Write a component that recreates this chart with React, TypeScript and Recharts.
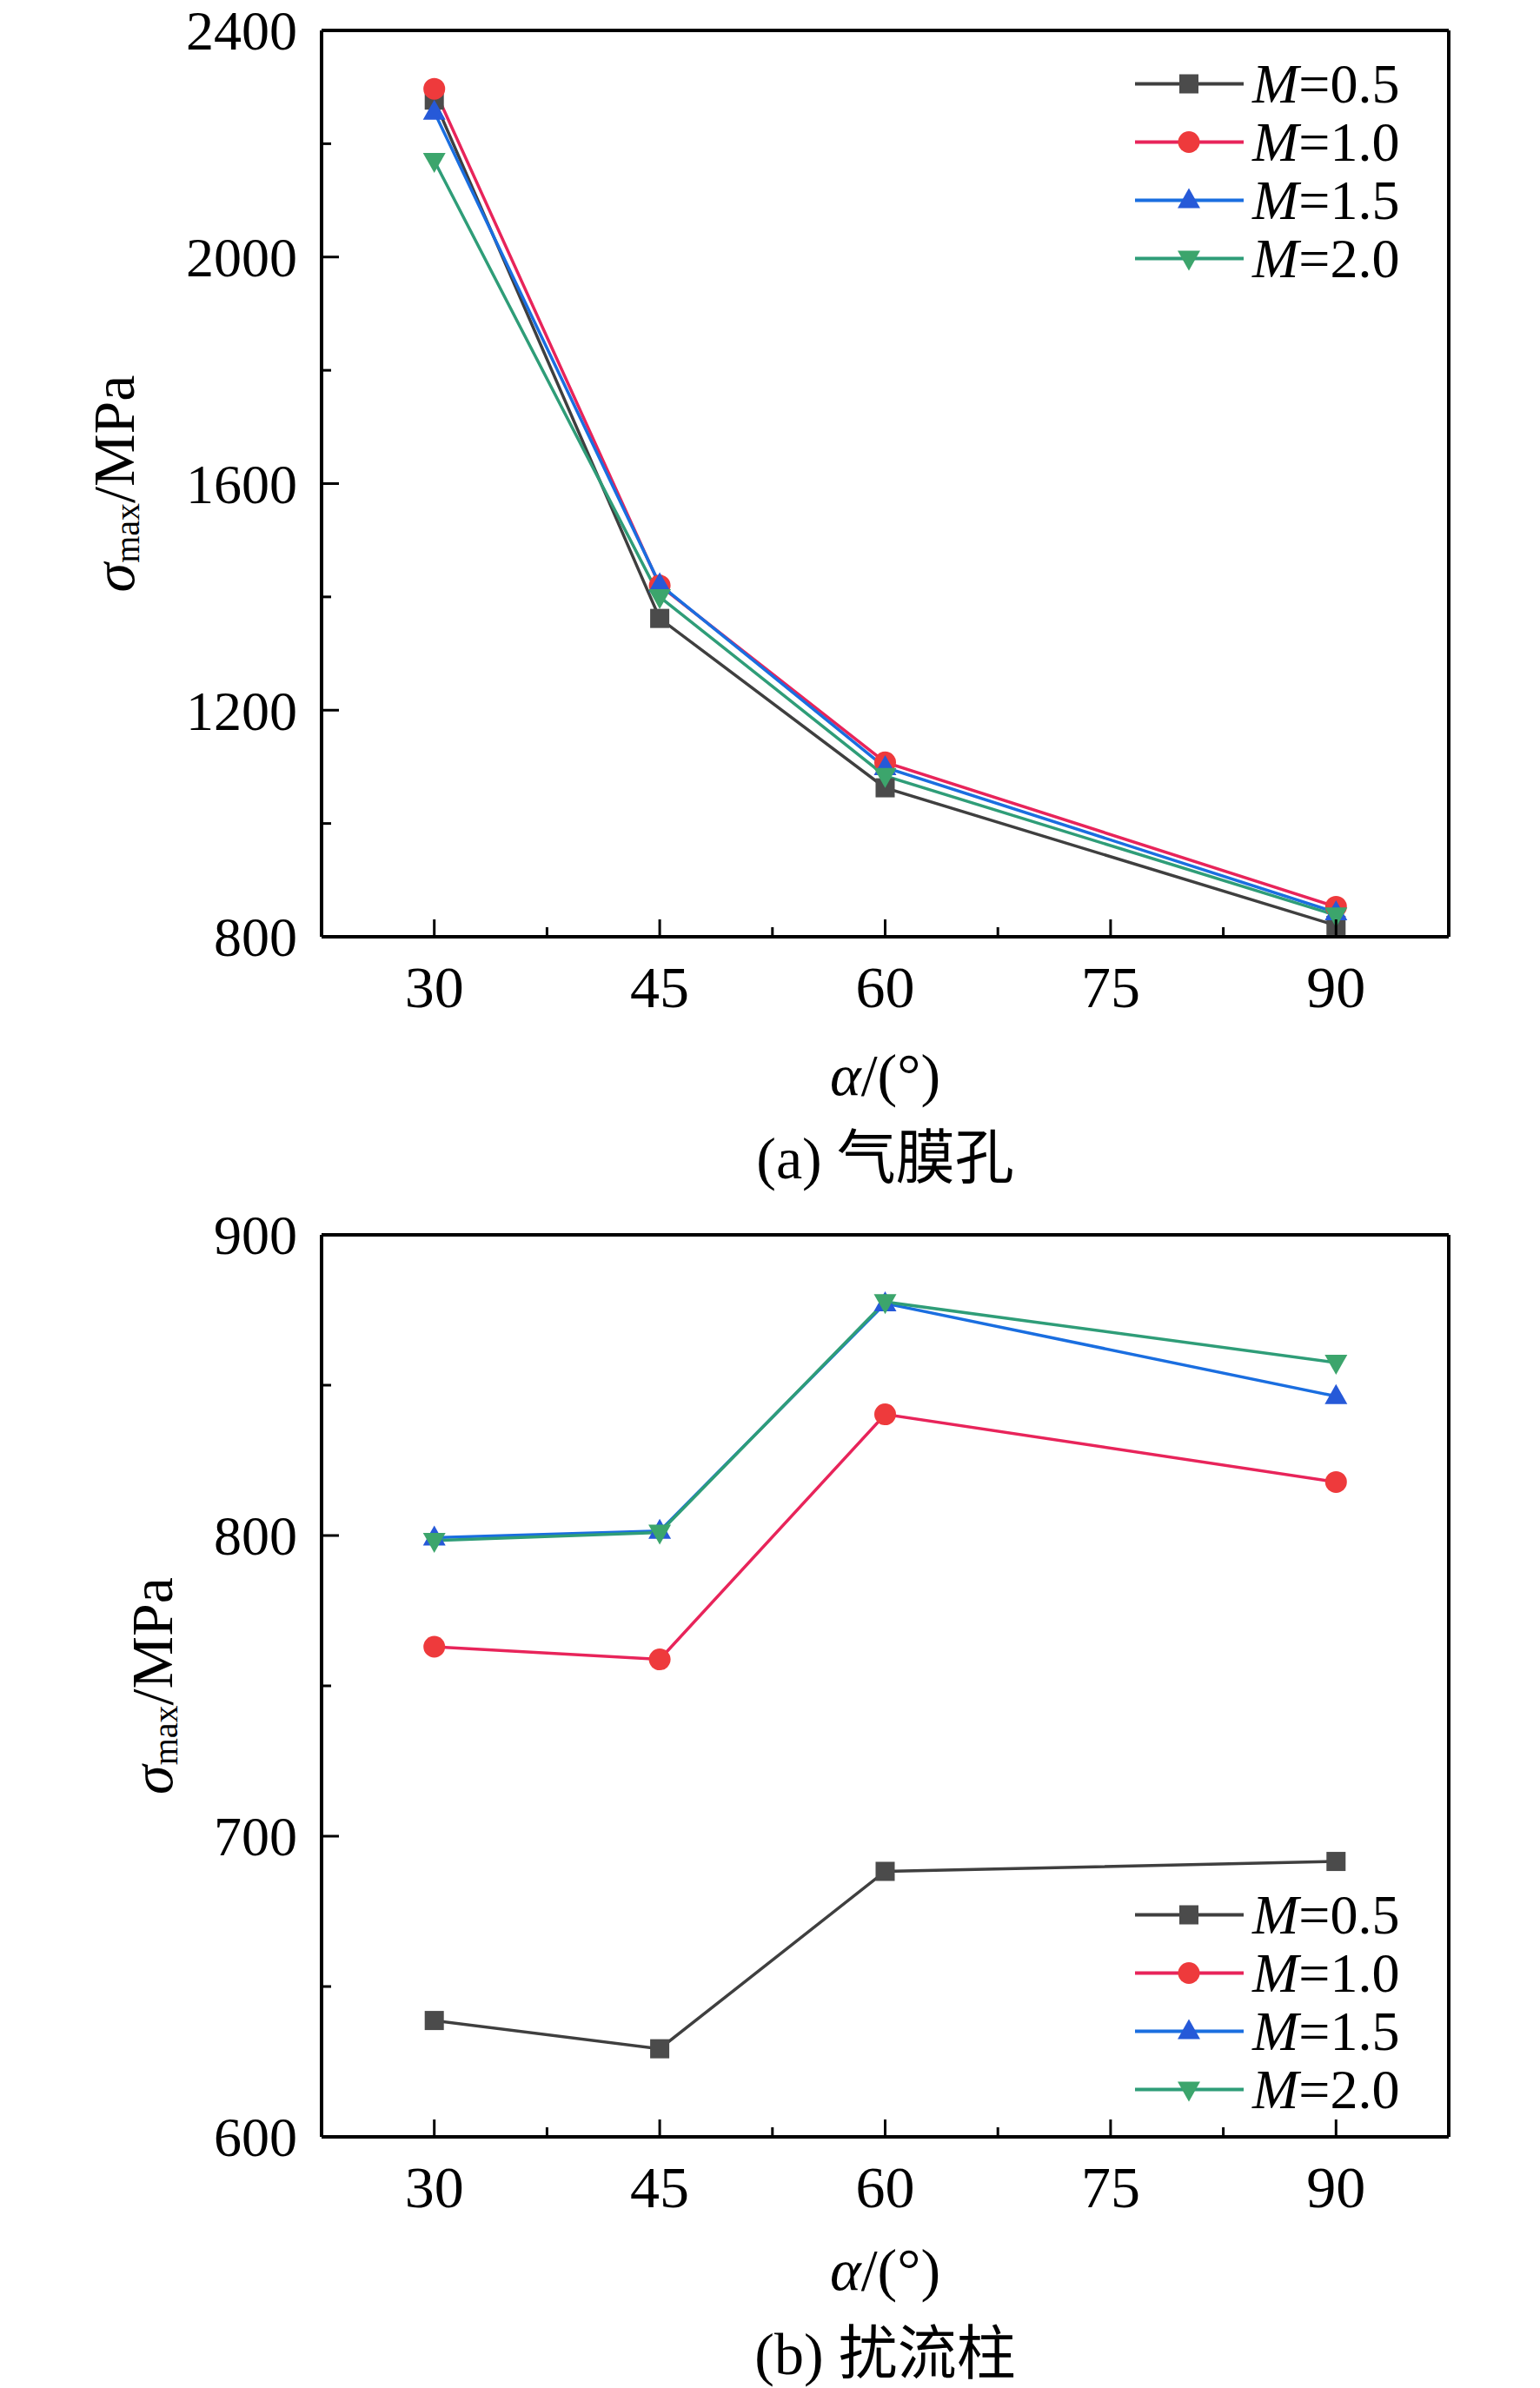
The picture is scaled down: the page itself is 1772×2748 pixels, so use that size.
import React from 'react';
import { LineChart, Line, XAxis, YAxis, Legend, ReferenceLine } from 'recharts';

const SERIF = '"Liberation Serif", "Times New Roman", "Noto Sans CJK SC", serif';
const FS = 68;
const FS_SMALL = 64;

// shared x axis: inclination angle alpha in degrees
const ANGLES = [30, 45, 60, 90];
const X_DOMAIN = [22.5, 97.5];
const X_TICKS = [30, 37.5, 45, 52.5, 60, 67.5, 75, 82.5, 90];
const X_MAJOR = [30, 45, 60, 75, 90];

// (a) film cooling hole
const FILM_M05 = [2277, 1362, 1063, 820];
const FILM_M10 = [2297, 1420, 1108, 853];
const FILM_M15 = [2256, 1422, 1099, 843];
const FILM_M20 = [2170, 1400, 1084, 838];
const FILM_Y_DOMAIN = [800, 2400];
const FILM_Y_TICKS = [800, 1000, 1200, 1400, 1600, 1800, 2000, 2200, 2400];
const FILM_Y_MAJOR = [800, 1200, 1600, 2000, 2400];

// (b) pin fin
const PIN_M05 = [638.7, 629.3, 688.3, 691.6];
const PIN_M10 = [763, 758.8, 840.3, 817.8];
const PIN_M15 = [799.3, 801.5, 877.2, 846.3];
const PIN_M20 = [798.3, 801, 877.7, 857.5];
const PIN_Y_DOMAIN = [600, 900];
const PIN_Y_TICKS = [600, 650, 700, 750, 800, 850, 900];
const PIN_Y_MAJOR = [600, 700, 800, 900];

const SERIES = [
  { key: 'm05', label: '0.5', line: '#3f3f3f', fill: '#4b4b4b', shape: 'square' },
  { key: 'm10', label: '1.0', line: '#e8245a', fill: '#ee3a3c', shape: 'circle' },
  { key: 'm15', label: '1.5', line: '#1a6ee0', fill: '#2659d8', shape: 'up' },
  { key: 'm20', label: '2.0', line: '#2f9d78', fill: '#3ca56c', shape: 'down' },
];

const buildRows = (m05: number[], m10: number[], m15: number[], m20: number[]) =>
  ANGLES.map((a, i) => ({ alpha: a, m05: m05[i], m10: m10[i], m15: m15[i], m20: m20[i] }));

const FILM_ROWS = buildRows(FILM_M05, FILM_M10, FILM_M15, FILM_M20);
const PIN_ROWS = buildRows(PIN_M05, PIN_M10, PIN_M15, PIN_M20);

const Marker = ({ cx, cy, shape, fill }: any) => {
  if (cx == null || cy == null) return null;
  if (shape === 'square') return <rect x={cx - 11} y={cy - 11} width={22} height={22} fill={fill} />;
  if (shape === 'circle') return <circle cx={cx} cy={cy} r={12.5} fill={fill} />;
  if (shape === 'up')
    return <polygon points={`${cx},${cy - 14} ${cx + 13},${cy + 9} ${cx - 13},${cy + 9}`} fill={fill} />;
  return <polygon points={`${cx},${cy + 14} ${cx + 13},${cy - 9} ${cx - 13},${cy - 9}`} fill={fill} />;
};

const XTick = ({ x, y, payload }: any) => {
  const major = X_MAJOR.includes(payload.value);
  return (
    <g>
      <line x1={x} x2={x} y1={y} y2={y - (major ? 20 : 11)} stroke="#000" strokeWidth={3} />
      {major && (
        <text x={x} y={y + 57} dy="0.35em" textAnchor="middle" fontFamily={SERIF} fontSize={FS} fill="#000">
          {payload.value}
        </text>
      )}
    </g>
  );
};

const makeYTick = (majors: number[]) => ({ x, y, payload }: any) => {
  const major = majors.includes(payload.value);
  return (
    <g>
      <line x1={x} x2={x + (major ? 20 : 11)} y1={y} y2={y} stroke="#000" strokeWidth={3} />
      {major && (
        <text x={x - 28} y={y} dy="0.35em" textAnchor="end" fontFamily={SERIF} fontSize={FS_SMALL} fill="#000">
          {payload.value}
        </text>
      )}
    </g>
  );
};

const makeYTitle = (cx: number) => (props: any) => {
  const vb = props.viewBox || {};
  const cy = vb.y + vb.height / 2;
  return (
    <text
      x={cx}
      y={cy}
      transform={`rotate(-90, ${cx}, ${cy})`}
      textAnchor="middle"
      dominantBaseline="central"
      fontFamily={SERIF}
      fontSize={FS}
      fill="#000"
    >
      <tspan fontStyle="italic">σ</tspan>
      <tspan fontSize={40} dy={15}>max</tspan>
      <tspan dy={-15}>/MPa</tspan>
    </text>
  );
};

const makeXTitle = (caption: string, titleOffset: number, captionOffset: number) => (props: any) => {
  const vb = props.viewBox || {};
  const cx = vb.x + vb.width / 2;
  return (
    <g fontFamily={SERIF} fontSize={FS} fill="#000">
      <text x={cx} y={vb.y + titleOffset} dy="0.35em" textAnchor="middle">
        <tspan fontStyle="italic">α</tspan>
        <tspan>/(°)</tspan>
      </text>
      <text x={cx} y={vb.y + captionOffset} dy="0.35em" textAnchor="middle">
        {caption}
      </text>
    </g>
  );
};

const LegendBox = () => (
  <div style={{ fontFamily: SERIF, fontSize: FS_SMALL, color: '#000' }}>
    {SERIES.map((s) => (
      <div key={s.key} style={{ display: 'flex', alignItems: 'center', height: 67 }}>
        <svg width={125} height={67} style={{ display: 'block' }}>
          <line x1={0} x2={125} y1={33.5} y2={33.5} stroke={s.line} strokeWidth={4} />
          <Marker cx={62} cy={33.5} shape={s.shape} fill={s.fill} />
        </svg>
        <span style={{ marginLeft: 10, whiteSpace: 'nowrap', lineHeight: '67px' }}>
          <i>M</i>={s.label}
        </span>
      </div>
    ))}
  </div>
);

interface PanelProps {
  rows: any[];
  yDomain: number[];
  yTicks: number[];
  yMajor: number[];
  plotHeight: number;
  height: number;
  yTitleX: number;
  legendTop: number;
  caption: string;
  titleOffset: number;
  captionOffset: number;
}

const Panel = ({ rows, yDomain, yTicks, yMajor, plotHeight, height, yTitleX, legendTop, caption, titleOffset, captionOffset }: PanelProps) => {
  const top = 35;
  return (
    <LineChart
      width={1772}
      height={height}
      data={rows}
      margin={{ top, right: 105, left: 0, bottom: 0 }}
    >
      <XAxis
        dataKey="alpha"
        type="number"
        domain={X_DOMAIN}
        ticks={X_TICKS}
        interval={0}
        height={height - top - plotHeight}
        tickSize={0}
        tickMargin={0}
        tickLine={false}
        tick={<XTick />}
        axisLine={{ stroke: '#000', strokeWidth: 4 }}
        label={makeXTitle(caption, titleOffset, captionOffset)}
      />
      <YAxis
        type="number"
        domain={yDomain}
        ticks={yTicks}
        interval={0}
        width={370}
        tickSize={0}
        tickMargin={0}
        tickLine={false}
        tick={makeYTick(yMajor)}
        axisLine={{ stroke: '#000', strokeWidth: 4 }}
        label={makeYTitle(yTitleX)}
      />
      <ReferenceLine y={yDomain[1]} stroke="#000" strokeWidth={4} />
      <ReferenceLine x={X_DOMAIN[1]} stroke="#000" strokeWidth={4} />
      <Legend
        layout="vertical"
        align="center"
        verticalAlign="middle"
        wrapperStyle={{ left: 1306, top: legendTop, width: 'auto', height: 'auto' }}
        content={<LegendBox />}
      />
      {SERIES.map((s) => (
        <Line
          key={s.key}
          dataKey={s.key}
          type="linear"
          stroke={s.line}
          strokeWidth={3.5}
          dot={(p: any) => <Marker key={`${s.key}-${p.index}`} cx={p.cx} cy={p.cy} shape={s.shape} fill={s.fill} />}
          activeDot={false}
          isAnimationActive={false}
        />
      ))}
    </LineChart>
  );
};

export default function App() {
  return (
    <div style={{ position: 'absolute', left: 0, top: 0, width: 1772, height: 2748, background: '#ffffff' }}>
      <div style={{ position: 'absolute', left: 0, top: 0 }}>
        <Panel
          rows={FILM_ROWS}
          yDomain={FILM_Y_DOMAIN}
          yTicks={FILM_Y_TICKS}
          yMajor={FILM_Y_MAJOR}
          plotHeight={1043}
          height={1380}
          yTitleX={131}
          legendTop={63}
          caption="(a) 气膜孔"
          titleOffset={158}
          captionOffset={254}
        />
      </div>
      <div style={{ position: 'absolute', left: 0, top: 1386 }}>
        <Panel
          rows={PIN_ROWS}
          yDomain={PIN_Y_DOMAIN}
          yTicks={PIN_Y_TICKS}
          yMajor={PIN_Y_MAJOR}
          plotHeight={1038}
          height={1362}
          yTitleX={175}
          legendTop={784}
          caption="(b) 扰流柱"
          titleOffset={152}
          captionOffset={249}
        />
      </div>
    </div>
  );
}
